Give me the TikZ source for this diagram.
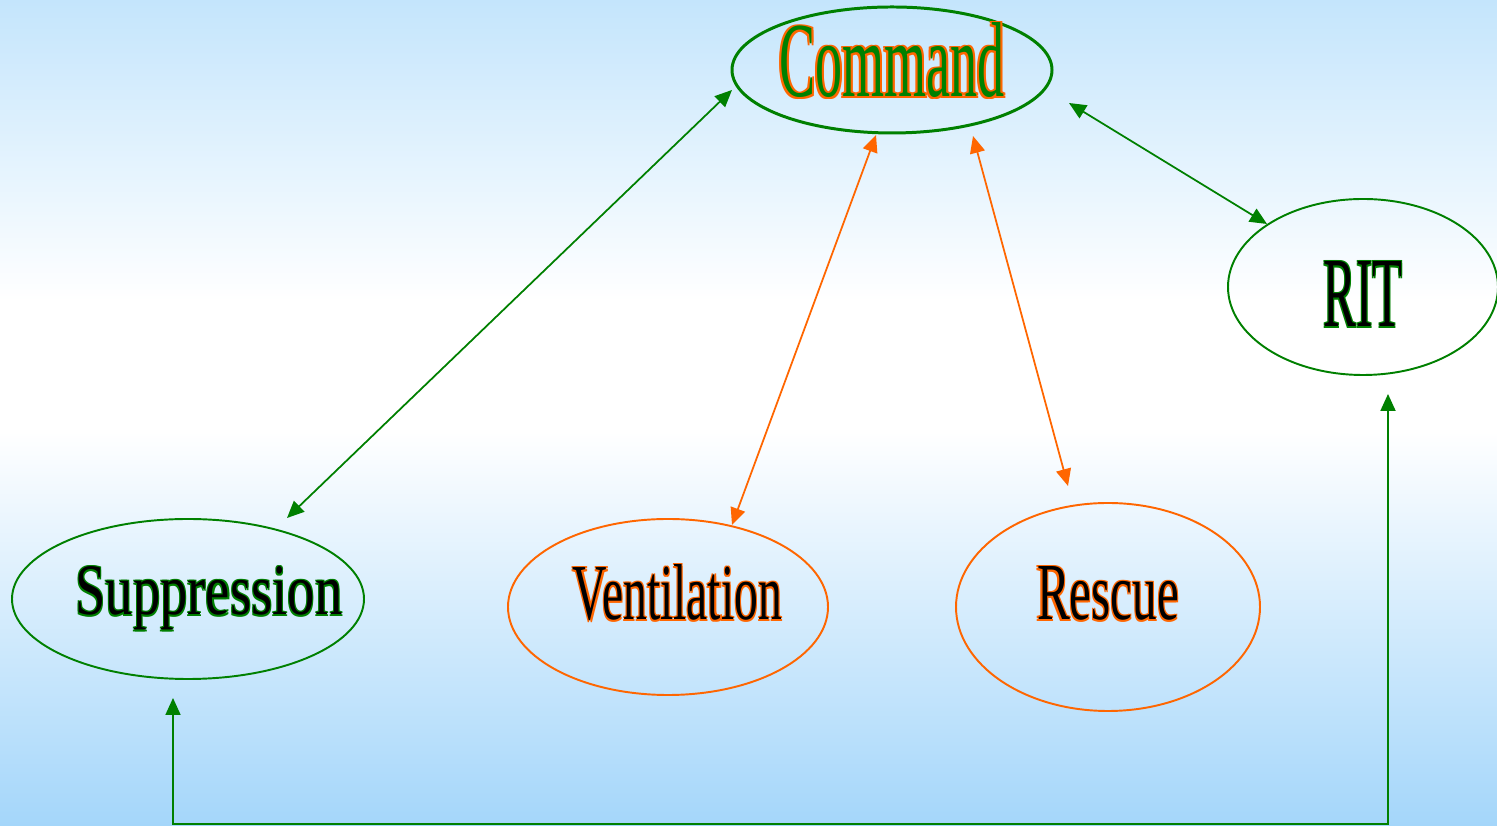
\documentclass[tikz,border=0pt]{standalone}
\usepackage{xcolor}
\usepackage{graphicx}
\usepackage{fontspec}
\setmainfont{Liberation Serif}
\usepackage{tikz}
\usetikzlibrary{calc}
\usetikzlibrary{shapes.geometric, positioning, arrows.meta}

\definecolor{leafgreen}{RGB}{0,128,0}
\definecolor{fireorange}{RGB}{255,102,0}
\definecolor{skytop}{RGB}{196,229,252}
\definecolor{skybottom}{RGB}{164,214,250}

% rim colour, fill colour, width, height, text
\newcommand\rimtext[6][.6pt]{\makebox[0pt]{\setbox0\hbox{\resizebox{#4}{#5}{#6}}%
  \rlap{\color{#2}\kern#1\raise#1\copy0}%
  \rlap{\color{#2}\kern-#1\raise#1\copy0}%
  \rlap{\color{#2}\kern#1\lower#1\copy0}%
  \rlap{\color{#2}\kern-#1\lower#1\copy0}%
  {\color{#3}\box0}}}

\begin{document}
\begin{tikzpicture}[-,auto,
                    green node/.style={ellipse,draw=leafgreen,line width=1.1pt,inner sep=0pt},
                    orange node/.style={ellipse,draw=fireorange,line width=1.1pt,inner sep=0pt},
                    green link/.style={{Triangle[length=0.34cm,width=0.3cm]}-{Triangle[length=0.34cm,width=0.3cm]},leafgreen,line width=1pt},
                    orange link/.style={{Triangle[length=0.34cm,width=0.3cm]}-{Triangle[length=0.34cm,width=0.3cm]},fireorange,line width=1pt}]

  \useasboundingbox (0,0) rectangle (29.94,16.52);
  \fill[top color=skytop,bottom color=white] (0,10.5) rectangle (29.94,16.52);
  \fill[white] (0,7.9) rectangle (29.94,10.5);
  \fill[top color=white,bottom color=skybottom] (0,0) rectangle (29.94,7.9);

  \node[green node,line width=1.7pt,minimum width=6.4cm,minimum height=2.52cm,text height=1.08cm,text depth=0pt]
    (cmd) at (17.84,15.12) {\rimtext[1pt]{fireorange}{leafgreen}{4.5cm}{1.48cm}{Command}};
  \node[green node,minimum width=7.04cm,minimum height=3.2cm,text height=0.94cm,text depth=0.3cm]
    (sup) [shift={(-14.08,-10.58)}] at (cmd) {\kern0.84cm\rimtext{leafgreen}{black}{5.34cm}{0.96cm}{Suppression}};
  \node[orange node,minimum width=6.4cm,minimum height=3.52cm,text height=0.52cm,text depth=0pt]
    (vent) [shift={(-4.48,-10.74)}] at (cmd) {\kern0.38cm\rimtext{fireorange}{black}{4.18cm}{1.1cm}{Ventilation}};
  \node[orange node,minimum width=6.08cm,minimum height=4.16cm,text height=0.52cm,text depth=0pt]
    (resc) [shift={(4.32,-10.74)}] at (cmd) {\rimtext{fireorange}{black}{2.84cm}{1.06cm}{Rescue}};
  \node[green node,minimum width=5.4cm,minimum height=3.52cm,text height=1.6cm,text depth=0pt]
    (rit) [shift={(9.42,-4.34)}] at (cmd) {\rimtext{leafgreen}{black}{1.58cm}{1.3cm}{RIT}};

  \path
  ([shift={(-3.2,-0.4)}]cmd.center) edge[green link] ([shift={(1.98,1.62)}]sup.center)
  ([shift={(-0.32,-1.3)}]cmd.center) edge[orange link] ([shift={(1.28,1.64)}]vent.center)
  ([shift={(1.62,-1.32)}]cmd.center) edge[orange link] ([shift={(-0.8,2.42)}]resc.center)
  ([shift={(3.54,-0.66)}]cmd.center) edge[green link] ([shift={(-1.92,1.26)}]rit.center);

  \draw[green link,shorten <=0.36cm,shorten >=0.36cm]
    ([xshift=-0.3cm]sup.south) -- ++(0,-2.88) -| ([xshift=0.5cm]rit.south);

\end{tikzpicture}
\end{document}
